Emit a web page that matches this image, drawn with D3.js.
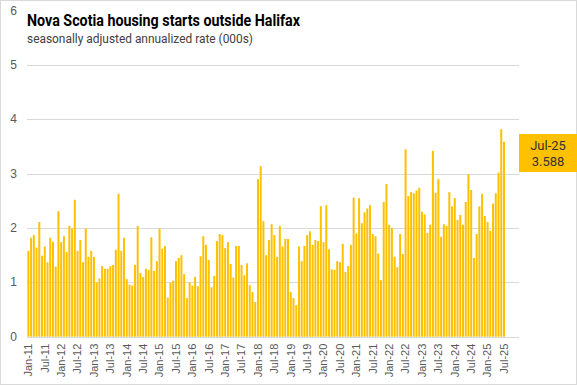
<!DOCTYPE html>
<html>
<head>
<meta charset="utf-8">
<script src="https://cdn.jsdelivr.net/npm/d3@7"></script>
<style>
  body { margin: 0; background: #fff; }
  svg { display: block; }
</style>
</head>
<body>
<div class="canvas"></div>
<script>
// month labels Jan-11 .. Dec-25 (axis runs to the end of 2025)
const monthNames = ['Jan', 'Feb', 'Mar', 'Apr', 'May', 'Jun', 'Jul', 'Aug', 'Sep', 'Oct', 'Nov', 'Dec'];
const years = ['11', '12', '13', '14', '15', '16', '17', '18', '19', '20', '21', '22', '23', '24', '25'];

// starts outside Halifax, SAAR (000s), Jan-11 .. Jul-25
const starts = [
  1.58, 1.82, 1.87, 1.64, 2.11, 1.49, 1.66, 1.37, 1.82, 1.75, 1.29, 2.31,
  1.74, 1.85, 1.56, 2.04, 1.99, 2.52, 1.58, 1.78, 1.37, 1.99, 1.47, 1.58,
  1.47, 1.00, 1.07, 1.30, 1.25, 1.25, 1.30, 1.32, 1.60, 2.63, 1.58, 1.82,
  1.06, 0.96, 0.94, 1.32, 2.04, 1.17, 1.10, 1.25, 1.23, 1.83, 1.21, 1.39,
  1.99, 1.62, 1.67, 0.72, 0.99, 1.03, 1.39, 1.45, 1.50, 1.15, 0.71, 1.00,
  0.94, 1.10, 0.93, 1.48, 1.85, 1.69, 1.41, 0.91, 1.12, 1.76, 1.89, 1.87,
  1.63, 1.74, 1.34, 1.09, 1.67, 1.67, 1.32, 1.13, 1.35, 0.95, 0.82, 0.64,
  2.90, 3.14, 2.13, 1.50, 1.78, 2.07, 1.87, 1.47, 2.04, 1.66, 1.80, 1.80,
  0.82, 0.71, 0.58, 1.66, 1.39, 1.67, 1.87, 1.94, 1.69, 1.78, 1.76, 2.40,
  1.74, 2.42, 1.61, 1.24, 1.23, 1.39, 1.37, 1.71, 1.19, 1.30, 1.69, 2.56,
  1.90, 2.55, 2.09, 2.29, 2.36, 2.42, 1.89, 1.85, 1.53, 1.04, 2.48, 2.81,
  2.06, 2.00, 1.47, 1.28, 1.89, 1.52, 3.45, 2.59, 2.66, 2.64, 2.69, 2.74,
  2.30, 2.25, 1.91, 2.06, 3.42, 2.65, 2.90, 1.84, 2.07, 2.04, 2.66, 2.40,
  2.55, 2.15, 2.24, 2.06, 2.48, 2.99, 2.70, 1.45, 1.89, 2.40, 2.63, 2.22,
  2.11, 1.95, 2.45, 2.64, 3.02, 3.82, 3.588
];

const yTicks = [0, 1, 2, 3, 4, 5, 6];
const gridTicks = [1, 2, 3, 4, 5];

const months = [];
years.forEach(y => monthNames.forEach(m => months.push(m + '-' + y)));

const data = starts.map((v, i) => ({ month: months[i], value: v }));
const last = data[data.length - 1];

const dims = { width: 577, height: 385 };
const plot = { left: 27, right: 519, top: 10.7, bottom: 336.7 };

const svg = d3.select('.canvas')
  .append('svg')
    .attr('width', dims.width)
    .attr('height', dims.height)
    .style('font-family', '"Liberation Sans", Arial, sans-serif');

svg.append('rect')
  .attr('x', 0.5).attr('y', 0.5)
  .attr('width', dims.width - 1).attr('height', dims.height - 1)
  .attr('fill', '#fff')
  .attr('stroke', '#d9d9d9');

const x = d3.scaleBand()
  .domain(months)
  .range([plot.left, plot.right])
  .paddingInner(0.27)
  .paddingOuter(0.13);

const y = d3.scaleLinear()
  .domain([0, 6])
  .range([plot.bottom, plot.top]);

// gridlines
svg.append('g')
  .selectAll('line')
  .data(gridTicks)
  .enter()
  .append('line')
    .attr('x1', plot.left)
    .attr('x2', plot.right)
    .attr('y1', d => Math.round(y(d)) + 0.5)
    .attr('y2', d => Math.round(y(d)) + 0.5)
    .attr('stroke', '#d9d9d9')
    .attr('stroke-width', 1);

// y labels
svg.append('g')
  .selectAll('text')
  .data(yTicks)
  .enter()
  .append('text')
    .attr('x', 17)
    .attr('y', d => y(d) + 4)
    .attr('text-anchor', 'end')
    .attr('font-size', 12)
    .attr('fill', '#595959')
    .text(d => d);

// bars
svg.append('g')
  .selectAll('rect')
  .data(data)
  .enter()
  .append('rect')
    .attr('x', d => x(d.month))
    .attr('width', x.bandwidth())
    .attr('y', d => y(d.value))
    .attr('height', d => y(0) - y(d.value))
    .attr('fill', '#ffc000');

// baseline
svg.append('line')
  .attr('x1', plot.left).attr('x2', plot.right)
  .attr('y1', Math.round(y(0)) + 0.5).attr('y2', Math.round(y(0)) + 0.5)
  .attr('stroke', '#d9d9d9');

// x labels, every six months
const xAxis = d3.axisBottom(x)
  .tickValues(months.filter((m, i) => i % 6 === 0 && i < starts.length))
  .tickSize(0)
  .tickPadding(0);

const xg = svg.append('g')
  .attr('transform', `translate(0, ${plot.bottom + 7})`)
  .call(xAxis);
xg.select('.domain').remove();
xg.selectAll('text')
  .attr('transform', 'rotate(-90)')
  .attr('x', 0)
  .attr('y', 0)
  .attr('dx', 0)
  .attr('dy', '0.35em')
  .attr('text-anchor', 'end')
  .attr('font-size', 11)
  .attr('font-family', '"Liberation Sans", Arial, sans-serif')
  .attr('fill', '#595959');

// title
svg.append('text')
  .attr('x', 27)
  .attr('y', 26)
  .attr('font-size', 16)
  .attr('font-weight', 'bold')
  .attr('font-family', 'Roboto, "Liberation Sans", sans-serif')
  .attr('fill', '#000')
  .attr('textLength', 273)
  .attr('lengthAdjust', 'spacingAndGlyphs')
  .text('Nova Scotia housing starts outside Halifax');

svg.append('text')
  .attr('x', 27)
  .attr('y', 43)
  .attr('font-size', 12)
  .attr('font-family', 'Roboto, "Liberation Sans", sans-serif')
  .attr('fill', '#404040')
  .attr('textLength', 226)
  .attr('lengthAdjust', 'spacingAndGlyphs')
  .text('seasonally adjusted annualized rate (000s)');

// last value callout
const callout = svg.append('g');
callout.append('rect')
  .attr('x', 519)
  .attr('y', 134)
  .attr('width', 58)
  .attr('height', 38)
  .attr('fill', '#ffc000');
callout.append('text')
  .attr('x', 548)
  .attr('y', 150)
  .attr('text-anchor', 'middle')
  .attr('font-size', 13)
  .attr('font-family', 'Roboto, "Liberation Sans", sans-serif')
  .attr('fill', '#333')
  .text(last.month);
callout.append('text')
  .attr('x', 548)
  .attr('y', 166)
  .attr('text-anchor', 'middle')
  .attr('font-size', 13)
  .attr('font-family', 'Roboto, "Liberation Sans", sans-serif')
  .attr('fill', '#333')
  .text(d3.format('.3f')(last.value));
</script>
</body>
</html>
